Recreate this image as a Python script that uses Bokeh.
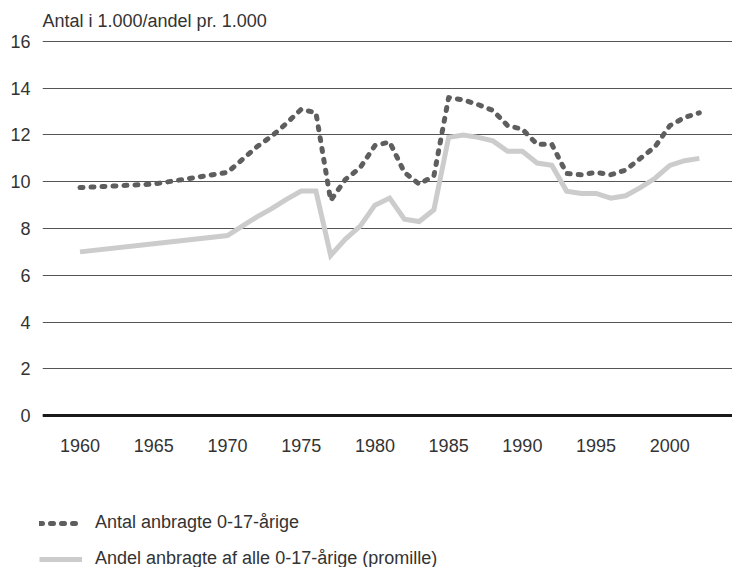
from bokeh.plotting import figure
from bokeh.layouts import column
from bokeh.models import Range1d, FixedTicker, Span, Legend, LegendItem, ColumnDataSource
from bokeh.embed import file_html
from bokeh.resources import INLINE

# ---- data ----
years = [1960, 1965, 1970, 1971, 1972, 1973, 1974, 1975, 1976, 1977, 1978, 1979,
         1980, 1981, 1982, 1983, 1984, 1985, 1986, 1987, 1988, 1989, 1990, 1991,
         1992, 1993, 1994, 1995, 1996, 1997, 1998, 1999, 2000, 2001, 2002]
antal = [9.75, 9.9, 10.4, 10.95, 11.5, 11.95, 12.5, 13.1, 12.95, 9.2, 10.1, 10.6,
         11.55, 11.7, 10.4, 9.9, 10.25, 13.6, 13.5, 13.3, 13.05, 12.4, 12.25, 11.6,
         11.6, 10.35, 10.3, 10.4, 10.3, 10.5, 11.0, 11.5, 12.4, 12.75, 12.95]
andel = [7.0, 7.35, 7.7, 8.1, 8.5, 8.85, 9.25, 9.6, 9.6, 6.85, 7.55, 8.1,
         9.0, 9.3, 8.4, 8.3, 8.8, 11.9, 12.0, 11.9, 11.75, 11.3, 11.3, 10.8,
         10.7, 9.6, 9.5, 9.5, 9.3, 9.4, 9.75, 10.15, 10.7, 10.9, 11.0]
x_ticks = [1960, 1965, 1970, 1975, 1980, 1985, 1990, 1995, 2000]
y_ticks = [0, 2, 4, 6, 8, 10, 12, 14, 16]
label_antal = "Antal anbragte 0-17-årige"
label_andel = "Andel anbragte af alle 0-17-årige (promille)"
y_title = "Antal i 1.000/andel pr. 1.000"

FONT = "Liberation Sans"
TXT = "#333333"
DARK = dict(line_color="#5e5e5e", line_width=5, line_dash="3 8", line_cap="round", line_join="round")
LIGHT = dict(line_color="#cccccc", line_width=5, line_join="miter", line_cap="butt")

src = ColumnDataSource(dict(year=years, antal=antal, andel=andel))

p = figure(width=732, height=490, output_backend="svg", toolbar_location=None,
           x_range=Range1d(1957.457, 2004.25), y_range=Range1d(-0.128, 16.128),
           min_border_left=42, min_border_right=0, min_border_top=38, min_border_bottom=72)
p.frame_align = False
p.outline_line_color = None
p.background_fill_color = "white"
p.border_fill_color = "white"

# title (axis caption)
p.title.text = y_title
p.title.align = "left"
p.title.offset = 0
p.title.standoff = 16
p.title.text_font = FONT
p.title.text_font_size = "18px"
p.title.text_font_style = "normal"
p.title.text_color = TXT

# grid
p.xgrid.grid_line_color = None
p.ygrid.ticker = FixedTicker(ticks=y_ticks)
p.ygrid.grid_line_color = "#555555"
p.ygrid.grid_line_width = 1

# axes
for ax in (p.xaxis[0], p.yaxis[0]):
    ax.axis_line_color = None
    ax.major_tick_line_color = None
    ax.minor_tick_line_color = None
    ax.major_tick_out = 0
    ax.major_tick_in = 0
    ax.minor_tick_out = 0
    ax.major_label_text_font = FONT
    ax.major_label_text_font_size = "18px"
    ax.major_label_text_color = TXT
p.xaxis.ticker = FixedTicker(ticks=x_ticks)
p.yaxis.ticker = FixedTicker(ticks=y_ticks)
p.xaxis.major_label_standoff = 20
p.yaxis.major_label_standoff = 12

# lines
r_andel = p.line("year", "andel", source=src, **LIGHT)
r_antal = p.line("year", "antal", source=src, **DARK)

# zero baseline
p.add_layout(Span(location=0, dimension="width", line_color="#1a1a1a", line_width=3))

# ---- legend strip below the chart ----
pl = figure(width=732, height=77, output_backend="svg", toolbar_location=None,
            x_range=Range1d(0, 1), y_range=Range1d(0, 1),
            min_border_left=0, min_border_right=0, min_border_top=0, min_border_bottom=0)
pl.frame_align = False
pl.axis.visible = False
pl.grid.grid_line_color = None
pl.outline_line_color = None
pl.background_fill_color = "white"
pl.border_fill_color = "white"
# single-point (hence invisible) proxies that only carry the line styles for the legend
l_antal = pl.line(x=years[:1], y=antal[:1], **DARK)
l_andel = pl.line(x=years[:1], y=andel[:1], **LIGHT)

legend = Legend(items=[LegendItem(label=label_antal, renderers=[l_antal]),
                       LegendItem(label=label_andel, renderers=[l_andel])],
                location=(39, -2), orientation="vertical",
                border_line_color=None, background_fill_alpha=0,
                padding=0, margin=0, spacing=15,
                glyph_width=43, glyph_height=20, label_height=20, label_standoff=13,
                label_text_font=FONT, label_text_font_size="18px", label_text_color=TXT)
pl.add_layout(legend, "center")

layout = column(p, pl, spacing=0)
open("out.html", "w").write(file_html(layout, INLINE))
